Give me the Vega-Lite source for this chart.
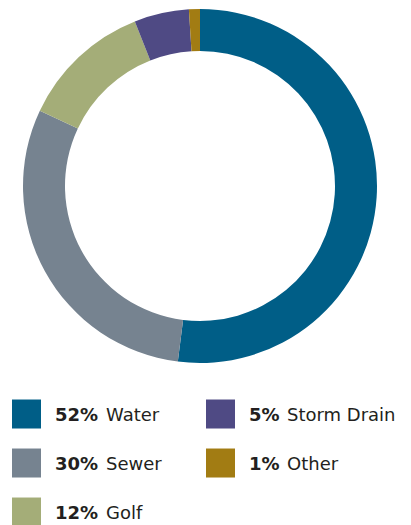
{
  "$schema": "https://vega.github.io/schema/vega-lite/v6.json",
  "padding": 0,
  "spacing": 3,
  "background": "white",
  "config": {"view": {"stroke": null}, "text": {"font": "DejaVu Sans", "fontSize": 18, "color": "#231F20"}},
  "datasets": {
    "d": [
      {"name": "Water", "share": 52, "pct": "52%", "idx": 1, "col": 0, "row": 0},
      {"name": "Sewer", "share": 30, "pct": "30%", "idx": 2, "col": 0, "row": 1},
      {"name": "Golf", "share": 12, "pct": "12%", "idx": 3, "col": 0, "row": 2},
      {"name": "Storm Drain", "share": 5, "pct": "5%", "idx": 4, "col": 1, "row": 0},
      {"name": "Other", "share": 1, "pct": "1%", "idx": 5, "col": 1, "row": 1}
    ]
  },
  "vconcat": [
    {
      "width": 400,
      "height": 372,
      "data": {"name": "d"},
      "mark": {"type": "arc", "outerRadius": 177, "innerRadius": 135},
      "encoding": {
        "theta": {"field": "share", "type": "quantitative", "stack": true},
        "order": {"field": "idx", "type": "quantitative"},
        "color": {
          "field": "name", "type": "nominal", "legend": null,
          "scale": {"domain": ["Water", "Sewer", "Golf", "Storm Drain", "Other"],
                    "range": ["#005E87", "#768390", "#A4AD78", "#4F4A84", "#A27C13"]}
        }
      }
    },
    {
      "width": 411,
      "height": 150,
      "data": {"name": "d"},
      "encoding": {
        "x": {"field": "col", "type": "quantitative", "axis": null, "scale": {"domain": [-0.1366, 1.982], "nice": false, "zero": false}},
        "y": {"field": "row", "type": "quantitative", "axis": null, "scale": {"domain": [-0.796, 2.265], "nice": false, "zero": false, "reverse": true}}
      },
      "layer": [
        {
          "mark": {"type": "point", "shape": "square", "size": 841, "filled": true, "opacity": 1},
          "encoding": {
            "color": {
              "field": "name", "type": "nominal", "legend": null,
              "scale": {"domain": ["Water", "Sewer", "Golf", "Storm Drain", "Other"],
                        "range": ["#005E87", "#768390", "#A4AD78", "#4F4A84", "#A27C13"]}
            }
          }
        },
        {
          "mark": {"type": "text", "align": "left", "baseline": "alphabetic", "dx": 28.5, "dy": 6.5, "fontWeight": "bold"},
          "encoding": {"text": {"field": "pct"}}
        },
        {
          "transform": [{"filter": "length(datum.pct) == 3"}],
          "mark": {"type": "text", "align": "left", "baseline": "alphabetic", "dx": 79.5, "dy": 6.5},
          "encoding": {"text": {"field": "name"}}
        },
        {
          "transform": [{"filter": "length(datum.pct) == 2"}],
          "mark": {"type": "text", "align": "left", "baseline": "alphabetic", "dx": 66.5, "dy": 6.5},
          "encoding": {"text": {"field": "name"}}
        }
      ]
    }
  ]
}
